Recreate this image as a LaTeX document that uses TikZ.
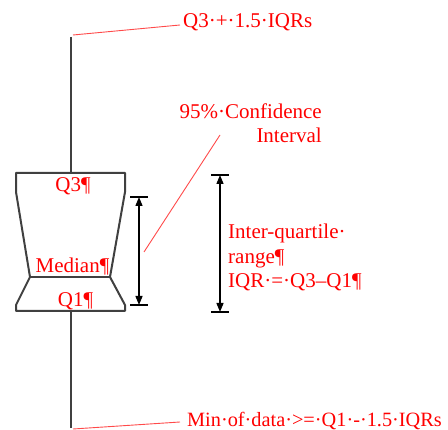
\documentclass[tikz,border=0pt]{standalone}
\usepackage{fontspec}
\setmainfont{Liberation Serif}
\usetikzlibrary{arrows.meta}
\definecolor{boxgray}{HTML}{404040}
\definecolor{lblred}{HTML}{FF0000}
\definecolor{leadred}{HTML}{FF4A4A}
\tikzset{
  boxline/.style={draw=boxgray, line width=2pt, line join=round},
  dimarrow/.style={draw=black, line width=1.4pt, {Triangle[length=9pt,width=7pt]}-{Triangle[length=9pt,width=7pt]}},
  dimbar/.style={draw=black, line width=1.4pt},
  leader/.style={draw=leadred, line width=0.9pt},
  lbl/.style={text=lblred, font=\fontsize{21}{24.5}\selectfont, inner sep=0pt},
}
\begin{document}
\begin{tikzpicture}[x=1pt,y=-1pt]
\useasboundingbox (0,0) rectangle (448,430);
% whisker ends
\coordinate (wtop) at (71,37);
\coordinate (wbot) at (71,428);
\coordinate (boxtop) at (71,173);
\coordinate (boxbot) at (71,311);
% box corners
\coordinate (tl) at (16,173);
\coordinate (tr) at (125,173);
\coordinate (trs) at (125,192);
\coordinate (mr) at (110,277);
\coordinate (brs) at (125,305);
\coordinate (br) at (125,311);
\coordinate (bl) at (16,311);
\coordinate (bls) at (16,305);
\coordinate (ml) at (30,277);
\coordinate (tls) at (16,192);
\draw[boxline] (wtop) -- (boxtop);
\draw[boxline] (boxbot) -- (wbot);
\draw[boxline] (tl) -- (tr) -- (trs) -- (mr) -- (brs) -- (br) -- (bl) -- (bls) -- (ml) -- (tls) -- cycle;
\draw[boxline] (ml) -- (mr);
% box labels
\node[lbl, anchor=base] (q3) at (73,192) {Q3¶};
\node[lbl, anchor=base] (med) at (72.5,273) {Median¶};
\node[lbl, anchor=base] (q1) at (75.5,307) {Q1¶};
% confidence interval arrow
\coordinate (ciT) at (139,197);
\coordinate (ciB) at (139,305);
\draw[dimbar] ([xshift=-9pt]ciT) -- ([xshift=9pt]ciT);
\draw[dimbar] ([xshift=-9pt]ciB) -- ([xshift=9pt]ciB);
\draw[dimarrow] (ciT) -- (ciB);
% IQR arrow
\coordinate (iqT) at (220,175);
\coordinate (iqB) at (220,312);
\draw[dimbar] ([xshift=-9pt]iqT) -- ([xshift=9pt]iqT);
\draw[dimbar] ([xshift=-9pt]iqB) -- ([xshift=9pt]iqB);
\draw[dimarrow] (iqT) -- (iqB);
% labels
\node[lbl, anchor=base west] (top) at (183,28) {Q3·+·1.5·IQRs};
\node[lbl, anchor=base east, align=right] (ci) at (322,143) {95\%·Confidence\\Interval};
\node[lbl, anchor=base west, align=left] (iqr) at (228,288) {Inter-quartile·\\range¶\\IQR·=·Q3–Q1¶};
\node[lbl, anchor=base west, font=\fontsize{20.3}{24}\selectfont] (min) at (187,427) {Min·of·data·>=·Q1·-·1.5·IQRs};
% leader lines
\coordinate (topend) at (180,25);
\coordinate (ciend) at (220,135);
\coordinate (cistart) at (144,252);
\coordinate (minend) at (180,422);
\coordinate (wtopl) at (73,35);
\coordinate (wbotl) at (73,429);
\draw[leader] (wtopl) -- (topend);
\draw[leader] (cistart) -- (ciend);
\draw[leader] (wbotl) -- (minend);
\end{tikzpicture}
\end{document}
